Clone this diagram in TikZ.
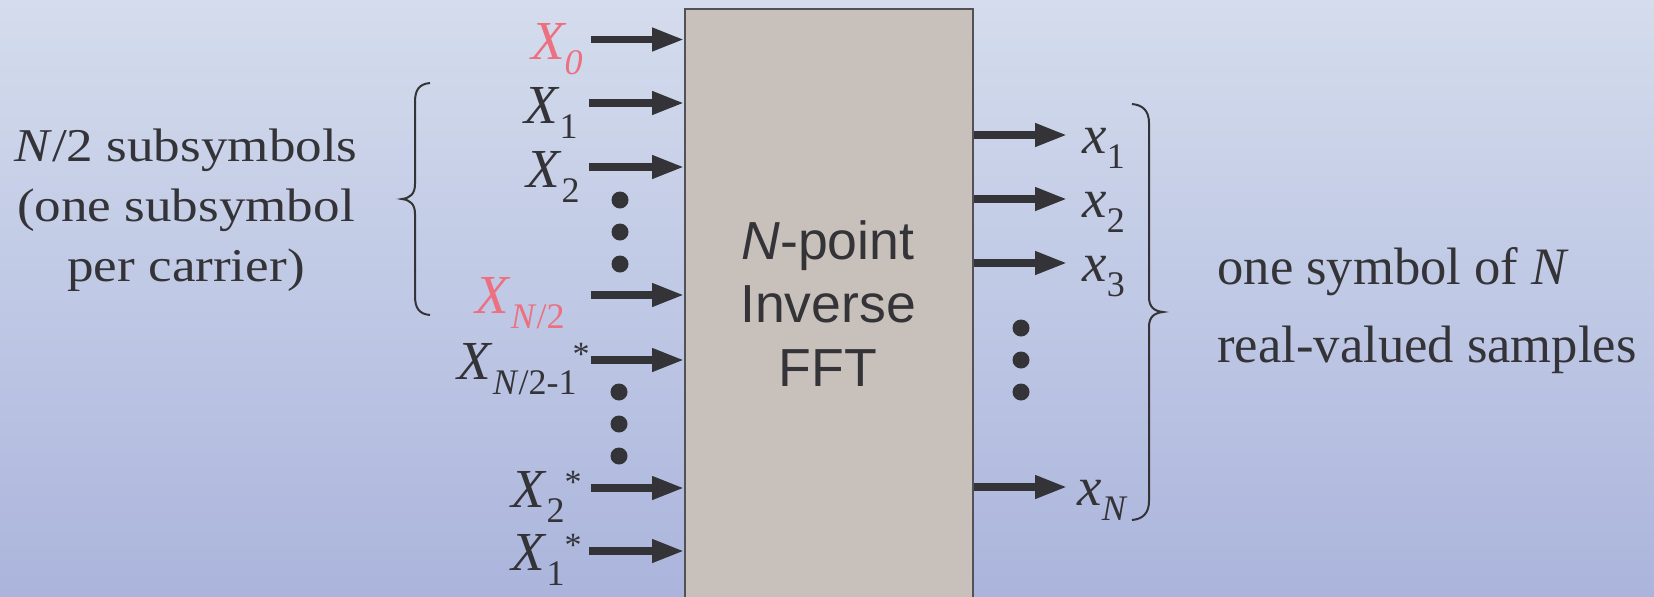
\documentclass[tikz,border=0pt]{standalone}
\usepackage{fontspec}
\setmainfont{Liberation Serif}
\setsansfont{Liberation Sans}
\usetikzlibrary{arrows.meta}
\definecolor{ink}{RGB}{52,52,56}
\definecolor{pinkx}{RGB}{236,112,128}
\definecolor{boxfill}{RGB}{200,192,186}
\definecolor{bgtop}{RGB}{212,220,237}
\definecolor{bgbot}{RGB}{171,181,220}
\newcommand\lsub[1]{\raisebox{-7.5pt}{\fontsize{18}{18}\selectfont #1}}
\newcommand\lsup[1]{\raisebox{7pt}{\fontsize{17}{17}\selectfont #1}}
\begin{document}
\begin{tikzpicture}[x=0.5pt,y=-0.5pt,
  arr/.style={line width=3.6pt, draw=ink, -{Triangle[length=16pt,width=11pt]}},
  dotn/.style={circle, fill=ink, inner sep=0pt, minimum size=8.5pt},
  brace/.style={draw=ink, line width=1pt},
  lbl/.style={inner sep=0pt, text=ink, font=\fontsize{27.5}{30}\selectfont},
  fftbox/.style={draw=ink!85, line width=1pt, fill=boxfill, inner sep=0pt},
  desc/.style={inner sep=0pt, text=ink}]
\useasboundingbox (0,0) rectangle (1654,596);
\clip (0,0) rectangle (1654,596);
\shade[top color=bgtop, bottom color=bgbot] (0,0) rectangle (1654,596);

% FFT block
\node[fftbox, minimum width=144pt, minimum height=310pt, anchor=north west] (fft) at (684,8) {};
\node[desc, font=\sffamily] (fftlbl) at (828,310) {\fontsize{26.8}{31.75}\selectfont\begin{tabular}{@{}c@{}}\textit{N}-point\\Inverse\\FFT\end{tabular}};

% input arrow starts
\coordinate (i0) at (591,39.5);
\coordinate (i1) at (589,103);
\coordinate (i2) at (589,167);
\coordinate (i3) at (591,295);
\coordinate (i4) at (591,360);
\coordinate (i5) at (591,488);
\coordinate (i6) at (589,551);
\foreach \c in {i0,i1,i2,i3,i4,i5,i6} \draw[arr] (\c) -- (\c -| fft.west);

% output arrow tips
\coordinate (o1) at (1067,135);
\coordinate (o2) at (1067,199);
\coordinate (o3) at (1067,263);
\coordinate (o4) at (1067,487);
\foreach \c in {o1,o2,o3,o4} \draw[arr] (fft.east |- \c) -- (\c);

% dots
\node[dotn] (dl1) at (620,200) {};
\node[dotn] (dl2) at (620,232) {};
\node[dotn] (dl3) at (620,264) {};
\node[dotn] (dm1) at (619,392) {};
\node[dotn] (dm2) at (619,424) {};
\node[dotn] (dm3) at (619,456) {};
\node[dotn] (dr1) at (1021,328) {};
\node[dotn] (dr2) at (1021,360) {};
\node[dotn] (dr3) at (1021,392) {};

% input labels
\node[lbl, text=pinkx, anchor=base east] (l0) at (583,59) {\itshape X\lsub{0}};
\node[lbl, anchor=base east] (l1) at (578,123) {\textit{X}\lsub{1}};
\node[lbl, anchor=base east] (l2) at (580,187) {\textit{X}\lsub{2}};
\node[lbl, text=pinkx, anchor=base east] (l3) at (565,313) {\textit{X}\lsub{\textit{N}/2}};
\node[lbl, anchor=base east] (l4) at (590,379) {\textit{X}\lsub{\textit{N}/2-1}\hspace{-2pt}\lsup{*}};
\node[lbl, anchor=base east] (l5) at (582,507) {\textit{X}\lsub{2}\lsup{*}};
\node[lbl, anchor=base east] (l6) at (582,570) {\textit{X}\lsub{1}\lsup{*}};

% output labels
\node[lbl, anchor=base west] (r1) at (1082,153) {\textit{x}\lsub{1}};
\node[lbl, anchor=base west] (r2) at (1082,217) {\textit{x}\lsub{2}};
\node[lbl, anchor=base west] (r3) at (1082,281) {\textit{x}\lsub{3}};
\node[lbl, anchor=base west] (r4) at (1077,505) {\textit{x}\lsub{\textit{N}}};

% braces
\draw[brace] (430,83) .. controls (419,84) and (415,90) .. (415,102) -- (415,184)
  .. controls (415,194) and (410,198) .. (402,199)
  .. controls (410,200) and (415,204) .. (415,214) -- (415,296)
  .. controls (415,308) and (419,314) .. (430,315);
\draw[brace] (1132,104) .. controls (1143,105) and (1149,111) .. (1149,123) -- (1149,297)
  .. controls (1149,307) and (1154,311) .. (1163,312)
  .. controls (1154,313) and (1149,317) .. (1149,327) -- (1149,501)
  .. controls (1149,513) and (1143,519) .. (1132,520);

% descriptions
\node[desc] (left) at (186,209) {\scalebox{1.13}[1]{\fontsize{23.5}{30}\selectfont\begin{tabular}{@{}c@{}}\textit{N}/2 subsymbols\\(one subsymbol\\per carrier)\end{tabular}}};
\node[desc, anchor=west] (right) at (1217,307.4) {\fontsize{26.3}{39}\selectfont\begin{tabular}{@{}l@{}}one symbol of \textit{N}\\real-valued samples\end{tabular}};
\end{tikzpicture}
\end{document}
